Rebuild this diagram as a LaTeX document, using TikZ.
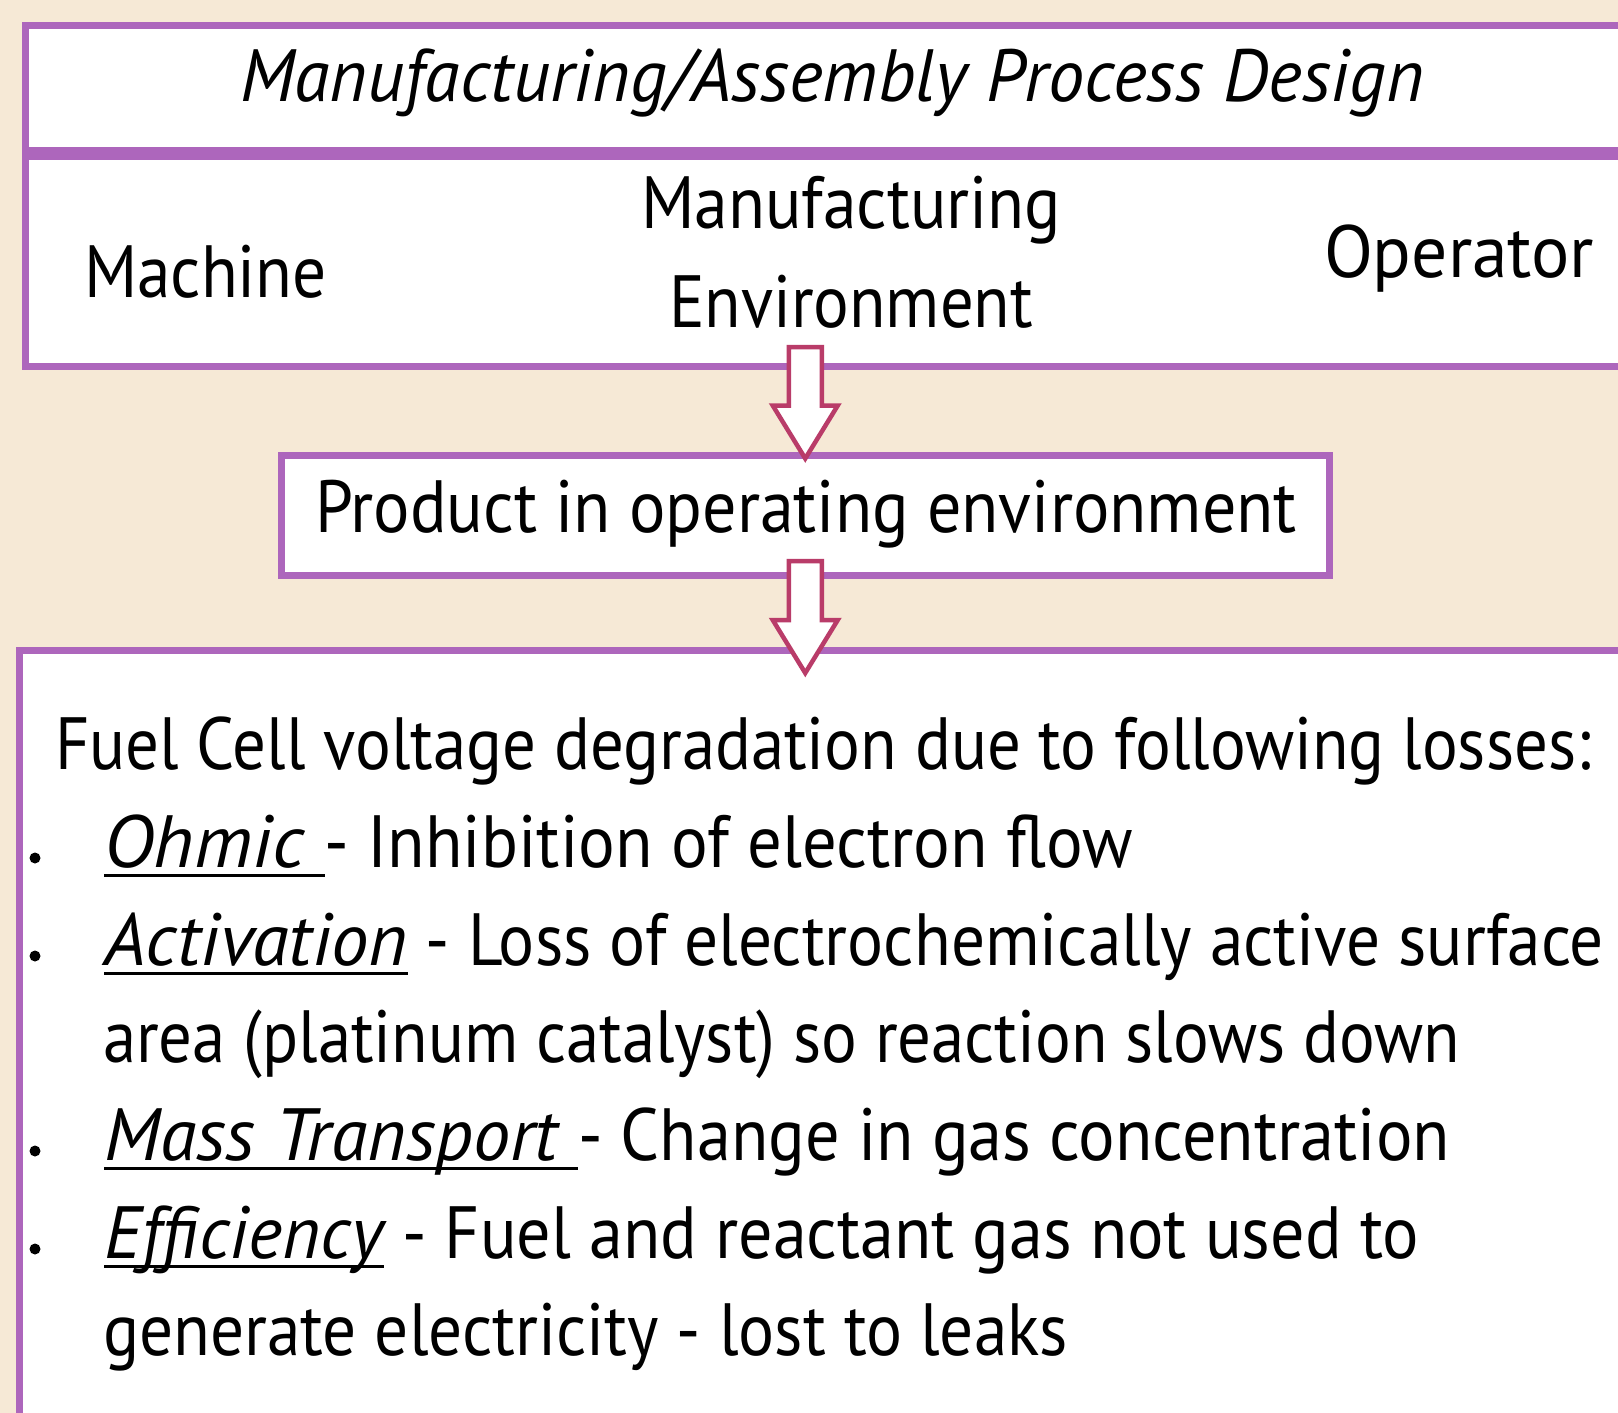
\documentclass[tikz,border=0pt]{standalone}
\usepackage{fontspec}
\setmainfont{PT Sans}
\usepackage{graphicx}
\usetikzlibrary{calc}
\definecolor{bgbeige}{HTML}{F6E9D6}
\definecolor{boxpurple}{HTML}{AD66BC}
\definecolor{arrowred}{HTML}{B93C69}
\newsavebox\fitbox
\newlength\fitlen
\newcommand\fitw[2]{\sbox\fitbox{#2}\setlength\fitlen{\wd\fitbox}\pgfmathsetmacro\fitfac{#1/\fitlen}\scalebox{\fitfac}[1]{\usebox\fitbox}}
\newsavebox\ulbox
\newcommand\ulfit[2]{\rlap{\rule[-10pt]{#1pt}{3.5pt}}\fitw{#1}{#2}}
\tikzset{
  pbox/.style={draw=boxpurple, line width=7pt, fill=white, inner sep=0pt, outer sep=0pt, anchor=north west},
  txt/.style={inner sep=0pt, outer sep=0pt, font=\fontsize{74pt}{88pt}\selectfont, text=black},
  ltxt/.style={txt, anchor=base west},
  ctxt/.style={txt, anchor=base},
  blockarrow/.style={draw=arrowred, line width=4.5pt, fill=white, line join=miter},
  bulletdot/.style={circle, fill=black, inner sep=0pt, minimum size=11pt},
}
\newcommand\blockarr[2]{%
  \path[blockarrow] let \p1=(#1), \p2=(#2) in
    (\x1-16.5pt,\y1) -- (\x1+16.5pt,\y1) -- (\x1+16.5pt,\y2+53pt) -- (\x1+32.5pt,\y2+53pt)
    -- (\x1,\y2) -- (\x1-32.5pt,\y2+53pt) -- (\x1-16.5pt,\y2+53pt) -- cycle;}
\begin{document}
\begin{tikzpicture}[x=1pt,y=-1pt]
\path[use as bounding box] (0,0) rectangle (1618,1413);
\fill[bgbeige] (0,0) rectangle (1618,1413);
\begin{scope}
\clip (0,0) rectangle (1618,1413);
\node[pbox, minimum width=1634.5pt, minimum height=124.5pt] (titlebox) at (25.5,25.5) {};
\node[pbox, minimum width=1634.5pt, minimum height=210pt] (envbox) at (25.5,156) {};
\node[pbox, minimum width=1047.5pt, minimum height=119.5pt] (prodbox) at (281.5,455.5) {};
\node[pbox, minimum width=1640.5pt, minimum height=800pt] (lossbox) at (19.5,650) {};

\coordinate (a1s) at ([yshift=19pt]prodbox.north |- envbox.south);
\coordinate (a1e) at ([yshift=-3pt]prodbox.north);
\coordinate (a2s) at ([yshift=14pt]prodbox.south);
\coordinate (a2e) at ([yshift=-23pt]prodbox.south |- lossbox.north);
\blockarr{a1s}{a1e}
\blockarr{a2s}{a2e}
\end{scope}

\node[ctxt] (title) at (832,102) {\fitw{1184}{\itshape Manufacturing/Assembly Process Design}};
\node[ltxt] (machine) at (84,297) {\fitw{243}{Machine}};
\node[ctxt] (manuf) at (851,228) {\fitw{420}{Manufacturing}};
\node[ctxt] (envir) at (851,327) {\fitw{364}{Environment}};
\node[ltxt] (operator) at (1324,277) {\fitw{270}{Operator}};
\node[ltxt] (product) at (315,532) {\fitw{982}{Product in operating environment}};

\node[ltxt] (intro) at (55,769) {\fitw{1536}{Fuel Cell voltage degradation due to following losses:}};
\node[bulletdot] (b1) at (35,858) {};
\node[bulletdot] (b2) at (35,956) {};
\node[bulletdot] (b3) at (35,1151) {};
\node[bulletdot] (b4) at (35,1249) {};
\node[ltxt] (l1) at (104,867) {\ulfit{221}{\itshape Ohmic\ }\fitw{808}{- Inhibition of electron flow}};
\node[ltxt] (l2) at (104,965) {\ulfit{304}{\itshape Activation}\fitw{1196}{ - Loss of electrochemically active surface}};
\node[ltxt] (l3) at (103,1062) {\fitw{1357}{area (platinum catalyst) so reaction slows down}};
\node[ltxt] (l4) at (104,1160) {\ulfit{474}{\itshape Mass Transport\ }\fitw{872}{- Change in gas concentration}};
\node[ltxt] (l5) at (104,1258) {\ulfit{280}{\itshape Efficiency}\fitw{1035}{ - Fuel and reactant gas not used to}};
\node[ltxt] (l6) at (103,1355) {\fitw{965}{generate electricity - lost to leaks}};
\end{tikzpicture}
\end{document}
